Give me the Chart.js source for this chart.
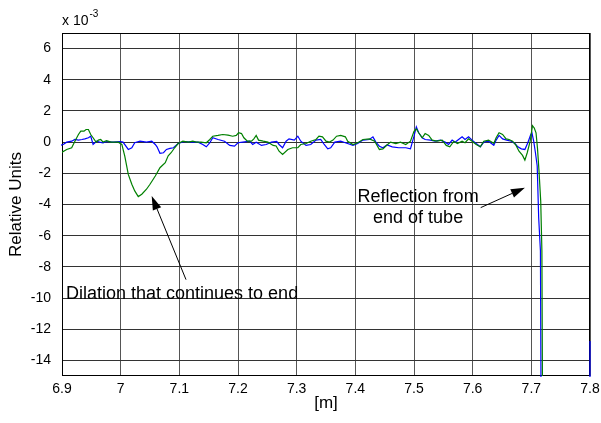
<!DOCTYPE html>
<html><head><meta charset="utf-8">
<script src="https://cdn.jsdelivr.net/npm/chart.js@4/dist/chart.umd.min.js"></script>
<style>html,body{margin:0;padding:0;background:#fff}</style>
</head><body>
<canvas id="c" width="601" height="423"></canvas>
<script>
// values in units of 1e-3
const greenX=[6.897,6.908,6.9165,6.922,6.928,6.932,6.9375,6.941,6.945,6.949,6.953,6.958,6.962,6.966,6.970,6.976,6.9835,6.996,7.002,7.007,7.013,7.019,7.024,7.030,7.036,7.044,7.050,7.059,7.067,7.076,7.081,7.086,7.092,7.098,7.106,7.115,7.123,7.129,7.137,7.146,7.152,7.157,7.166,7.174,7.183,7.191,7.197,7.201,7.206,7.210,7.216,7.223,7.227,7.231,7.235,7.243,7.251,7.260,7.265,7.270,7.276,7.285,7.293,7.302,7.307,7.316,7.324,7.333,7.338,7.344,7.350,7.356,7.362,7.368,7.375,7.383,7.387,7.396,7.404,7.413,7.424,7.433,7.441,7.447,7.453,7.460,7.469,7.477,7.486,7.494,7.500,7.504,7.508,7.514,7.519,7.525,7.531,7.539,7.548,7.555,7.561,7.568,7.574,7.582,7.587,7.593,7.599,7.606,7.613,7.619,7.627,7.636,7.640,7.645,7.651,7.657,7.662,7.668,7.674,7.679,7.685,7.689,7.693,7.698,7.702,7.705,7.708,7.7105,7.713,7.716,7.718,7.719];
const greenY=[-0.72,-0.47,-0.36,0.06,0.49,0.70,0.70,0.81,0.81,0.49,0.28,0.00,0.13,0.17,0.00,0.10,0.00,0.00,-0.15,-0.90,-2.07,-2.70,-3.13,-3.49,-3.34,-3.02,-2.70,-2.17,-1.64,-1.32,-0.88,-0.68,-0.36,-0.09,0.06,0.00,0.06,0.00,0.00,-0.04,0.17,0.38,0.43,0.49,0.45,0.38,0.43,0.60,0.55,0.28,0.06,0.06,0.21,0.43,0.13,0.06,0.00,-0.21,-0.25,-0.58,-0.79,-0.47,-0.36,-0.36,-0.15,-0.09,0.06,0.17,0.38,0.34,0.06,0.00,0.13,0.38,0.43,0.34,0.06,-0.15,-0.04,0.17,0.21,0.06,-0.47,-0.43,-0.22,0.00,-0.09,0.00,-0.15,0.06,0.70,0.85,0.60,0.28,0.55,0.43,0.13,0.06,0.13,-0.21,-0.30,0.06,-0.09,0.06,-0.04,0.21,0.06,-0.15,-0.30,0.06,0.13,-0.08,0.28,0.60,0.49,0.21,0.17,0.06,-0.21,-0.58,-0.85,-1.15,-0.68,0.06,1.05,0.91,0.60,-0.40,-1.80,-3.77,-6.97,-16];
const blueX=[6.897,6.902,6.908,6.9165,6.922,6.928,6.934,6.939,6.945,6.949,6.953,6.959,6.964,6.970,6.976,6.987,6.999,7.004,7.013,7.019,7.024,7.033,7.044,7.053,7.059,7.062,7.067,7.073,7.078,7.084,7.090,7.098,7.109,7.121,7.132,7.140,7.146,7.152,7.157,7.166,7.177,7.186,7.194,7.200,7.208,7.220,7.225,7.231,7.240,7.248,7.257,7.266,7.270,7.276,7.282,7.287,7.296,7.302,7.307,7.316,7.324,7.333,7.341,7.347,7.353,7.358,7.365,7.375,7.383,7.396,7.404,7.413,7.424,7.430,7.435,7.441,7.447,7.454,7.463,7.474,7.486,7.494,7.500,7.504,7.508,7.514,7.519,7.528,7.536,7.545,7.553,7.559,7.565,7.570,7.576,7.582,7.587,7.593,7.599,7.606,7.613,7.619,7.627,7.636,7.640,7.645,7.651,7.658,7.666,7.672,7.677,7.683,7.689,7.694,7.699,7.701,7.704,7.707,7.710,7.7125,7.7155,7.7165,7.7999,7.8];
const blueY=[-0.21,-0.15,0.00,0.06,0.17,0.13,0.17,0.21,0.28,0.38,-0.15,0.06,0.00,-0.04,0.04,0.00,0.04,0.00,-0.47,-0.36,-0.04,0.06,0.00,0.06,-0.15,-0.30,-0.72,-0.68,-0.47,-0.40,-0.36,-0.09,0.04,0.00,0.00,-0.15,-0.30,-0.04,0.28,0.17,0.06,-0.21,-0.26,-0.04,0.00,0.06,-0.15,0.00,-0.21,-0.15,0.00,0.05,-0.15,-0.36,0.06,0.21,0.13,0.38,0.06,-0.21,-0.15,0.13,0.17,-0.15,-0.43,-0.36,0.00,0.06,-0.04,-0.21,-0.09,0.13,0.17,0.34,0.00,-0.26,-0.36,-0.18,-0.30,-0.36,-0.36,-0.43,0.38,0.98,0.60,0.28,0.17,0.13,0.06,0.13,0.00,-0.15,0.13,0.00,0.17,0.34,0.17,0.34,0.13,-0.09,-0.30,0.00,0.06,-0.20,0.13,0.43,0.21,0.13,0.06,-0.09,-0.30,-0.43,-0.47,-0.04,0.49,0.60,0.06,-0.68,-1.53,-4.84,-6.97,-16,-16,-12.75];
const xTicks=[6.9,7.0,7.1,7.2,7.3,7.4,7.5,7.6,7.7,7.8];
const xTickLabels=['6.9','7','7.1','7.2','7.3','7.4','7.5','7.6','7.7','7.8'];
const yTicks=[-14,-12,-10,-8,-6,-4,-2,0,2,4,6];
const yTickLabels=['-14','-12','-10','-8','-6','-4','-2','0','2','4','6'];
const yRange=[-15,7];
const xRange=[6.9,7.8];
const xTitle='[m]';
const yTitle='Relative Units';
const multBase='x 10';
const multExp='-3';
const note1={text:['Dilation that continues to end'],tx:6.9068,ty:-9.74,align:'left',tail:[7.1114,-8.82],tip:[7.0529,-3.45]};
const note2={text:['Reflection from','end of tube'],tx:7.507,ty:-3.55,align:'center',tail:[7.6137,-4.2],tip:[7.689,-2.92]};

const FONT='"Liberation Sans", Arial, sans-serif';
const toPts=(xs,ys)=>xs.map((x,i)=>({x:x,y:ys[i]}));

function arrow(ctx,x1,y1,x2,y2){
  ctx.strokeStyle='#000';ctx.fillStyle='#000';ctx.lineWidth=1;
  const a=Math.atan2(y2-y1,x2-x1), L=14, W=4.5;
  const bx=x2-L*Math.cos(a), by=y2-L*Math.sin(a);
  ctx.beginPath();ctx.moveTo(x1,y1);ctx.lineTo(bx,by);ctx.stroke();
  ctx.beginPath();ctx.moveTo(x2,y2);
  ctx.lineTo(bx+W*Math.sin(a),by-W*Math.cos(a));
  ctx.lineTo(bx-W*Math.sin(a),by+W*Math.cos(a));
  ctx.closePath();ctx.fill();
}

const deco={id:'deco',
 beforeDatasetsDraw(chart){
  const ctx=chart.ctx, a=chart.chartArea;
  ctx.save();
  ctx.strokeStyle='#000';ctx.lineWidth=1;
  ctx.strokeRect(Math.round(a.left)+0.5,Math.round(a.top)+0.5,Math.round(a.right-a.left)-1,Math.round(a.bottom-a.top)-1);
  ctx.restore();
 },
 afterDraw(chart){
  const ctx=chart.ctx, a=chart.chartArea, xs=chart.scales.x, ys=chart.scales.y;
  ctx.save();
  ctx.fillStyle='#000';
  ctx.font='14px '+FONT;ctx.textBaseline='alphabetic';ctx.textAlign='left';
  ctx.fillText(multBase,a.left,25);
  const w=ctx.measureText(multBase).width;
  ctx.font='10px '+FONT;ctx.fillText(multExp,a.left+w+1,17);
  [note1,note2].forEach(n=>{
    ctx.font='18px '+FONT;ctx.textAlign=n.align;ctx.textBaseline='middle';ctx.fillStyle='#000';
    const px=xs.getPixelForValue(n.tx), py=ys.getPixelForValue(n.ty);
    n.text.forEach((t,i)=>ctx.fillText(t,px,py+i*21));
    arrow(ctx,xs.getPixelForValue(n.tail[0]),ys.getPixelForValue(n.tail[1]),xs.getPixelForValue(n.tip[0]),ys.getPixelForValue(n.tip[1]));
  });
  ctx.restore();
}};

new Chart(document.getElementById('c'),{
  type:'line',
  data:{datasets:[
    {label:'green',data:toPts(greenX,greenY),borderColor:'#008000',borderWidth:1.2,pointRadius:0,tension:0,fill:false},
    {label:'blue',data:toPts(blueX,blueY),borderColor:'#0000ff',borderWidth:1.2,pointRadius:0,tension:0,fill:false,clip:{left:1,top:1,right:1.5,bottom:1}}
  ]},
  options:{
    responsive:false,animation:false,devicePixelRatio:1,
    layout:{padding:{left:0,right:11,top:33,bottom:0}},
    plugins:{legend:{display:false},tooltip:{enabled:false}},
    scales:{
      x:{type:'linear',min:xRange[0],max:xRange[1],
        afterBuildTicks:s=>{s.ticks=xTicks.map(v=>({value:v}));},
        afterFit:s=>{s.height=47;s.paddingLeft=0;s.paddingRight=0;},
        ticks:{callback:(v,i)=>xTickLabels[i],color:'#000',font:{family:FONT,size:14},padding:5,maxRotation:0,autoSkip:false},
        grid:{color:'#555',lineWidth:1,drawTicks:false},
        border:{display:false},
        title:{display:true,text:xTitle,color:'#000',font:{family:FONT,size:17},padding:{top:0,bottom:9}}
      },
      y:{type:'linear',min:yRange[0],max:yRange[1],
        afterBuildTicks:s=>{s.ticks=yTicks.map(v=>({value:v}));},
        afterFit:s=>{s.width=62;s.paddingTop=0;s.paddingBottom=0;},
        ticks:{callback:(v,i)=>yTickLabels[i],color:'#000',font:{family:FONT,size:14},padding:11,autoSkip:false},
        grid:{color:'#333',lineWidth:1,drawTicks:false},
        border:{display:false},
        title:{display:true,text:yTitle,color:'#000',font:{family:FONT,size:17},padding:{top:6,bottom:0}}
      }
    }
  },
  plugins:[deco]
});
</script>
</body></html>
